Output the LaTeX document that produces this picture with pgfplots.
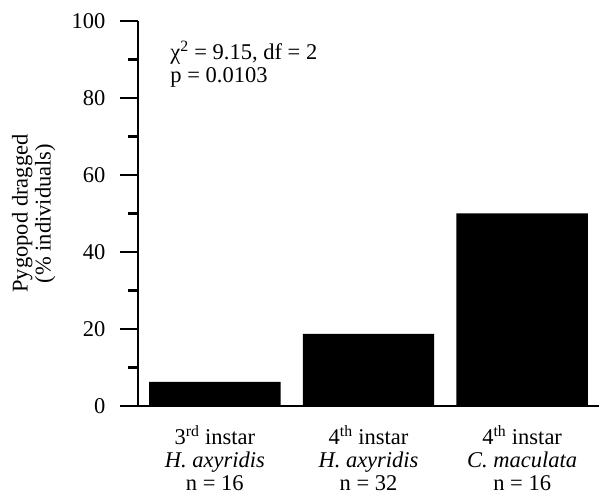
\documentclass[border=0pt]{standalone}
\usepackage{pgfplots}
\pgfplotsset{compat=1.18}
\usepackage{fontspec}
\setmainfont{Liberation Serif}
\newcommand{\bigf}{\fontsize{22.5}{23}\selectfont}
\begin{document}
\begin{tikzpicture}
\begin{axis}[
  at={(138pt,89pt)}, anchor=south west,
  scale only axis, width=461pt, height=385pt,
  xmin=-0.5, xmax=2.5, ymin=0, ymax=100,
  axis lines*=left,
  axis line style={line width=2.5pt, -},
  ytick={0,20,40,60,80,100},
  minor ytick={10,30,50,70,90},
  tick align=outside,
  major tick length=18pt, minor tick length=10pt,
  major tick style={line width=2.5pt, black},
  minor tick style={line width=2.5pt, black},
  xtick={0,1,2},
  xtick style={draw=none},
  xticklabels={{3\textsuperscript{rd} instar\\\textit{H. axyridis}\\n = 16},
               {4\textsuperscript{th} instar\\\textit{H. axyridis}\\n = 32},
               {4\textsuperscript{th} instar\\\textit{C. maculata}\\n = 16}},
  xticklabel style={align=center, font=\bigf, anchor=north, yshift=1.5pt},
  yticklabel style={font=\bigf, anchor=east, xshift=-11pt},
  /pgf/number format/assume math mode=true,
  every axis y label/.style={at={(axis description cs:-0.226,0.5)}, rotate=90, anchor=center, align=center, font=\bigf},
  ylabel={Pygopod dragged\\(\% individuals)},
  ybar, bar width=0.855,
  clip=false,
]
\addplot[fill=black, draw=none] coordinates {(0,6.25) (1,18.75) (2,50)};
\node[anchor=north west, inner sep=0pt, align=left, font=\bigf] at (axis cs:-0.29,94.8)
  {χ\textsuperscript{2} = 9.15, df = 2\\p = 0.0103};
\end{axis}
\pgfresetboundingbox
\path[use as bounding box] (0,0) rectangle (599pt,495pt);
\end{tikzpicture}
\end{document}
